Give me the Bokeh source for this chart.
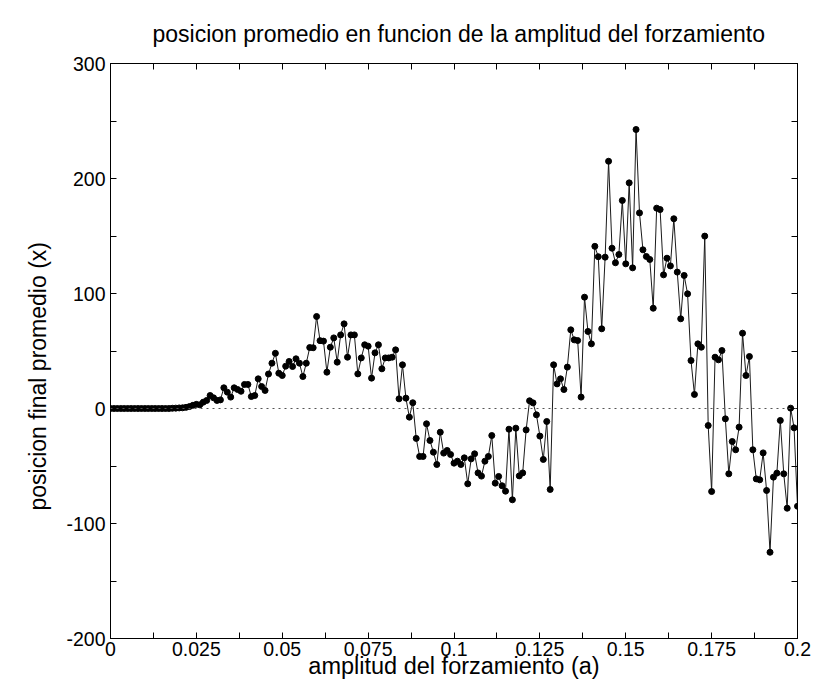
from bokeh.plotting import figure
from bokeh.models import LinearAxis, FixedTicker, Span, CustomJSTickFormatter, Title
from bokeh.embed import file_html
from bokeh.resources import INLINE

# forcing amplitude grid (0 .. 0.2, step 0.001)
amplitud = [round(0.001 * k, 3) for k in range(201)]

# mean final position for each amplitude
posicion = [
    0, 0, 0, 0, 0, 0, 0, 0, 0, 0,
    0, 0, 0, 0, 0, 0, 0, 0, 0.2, 0.3,
    0.5, 0.6, 1.0, 1.7, 2.8, 3.6, 3.2, 5.5, 7.0, 11.3,
    9.3, 7.0, 7.5, 18.0, 14.2, 9.9, 18.0, 16.5, 15.0, 20.9,
    20.9, 10.4, 11.3, 25.8, 19.1, 15.7, 30.0, 39.4, 48.0, 30.7,
    28.7, 36.8, 40.9, 36.5, 43.2, 39.4, 27.8, 39.4, 53.0, 52.8,
    80.0, 59.0, 58.6, 31.6, 53.3, 61.4, 40.3, 64.0, 73.6, 44.6,
    64.0, 64.0, 30.1, 44.0, 55.4, 54.2, 26.4, 48.4, 55.4, 34.5,
    44.0, 44.0, 44.6, 51.0, 8.4, 38.0, 9.0, -7.5, 5.0, -26.0,
    -41.7, -41.7, -13.3, -27.8, -38.0, -48.7, -20.6, -38.8, -36.5, -40.0,
    -47.5, -45.8, -48.7, -42.9, -65.5, -43.8, -39.4, -56.0, -58.8, -45.8,
    -41.7, -23.5, -64.9, -59.1, -67.2, -71.9, -18.0, -79.4, -17.1, -58.6,
    -56.0, -18.6, 6.7, 4.9, -5.5, -24.0, -44.3, -11.3, -70.4, 38.0,
    21.4, 25.8, 16.5, 36.0, 68.4, 59.7, 59.1, 9.9, 96.8, 67.0,
    56.2, 141.0, 132.0, 69.3, 131.6, 215.0, 139.4, 126.7, 133.9, 180.9,
    125.8, 196.2, 122.3, 242.6, 170.1, 138.0, 132.2, 129.6, 87.2, 174.2,
    173.0, 116.2, 130.7, 124.0, 165.0, 118.6, 78.0, 115.7, 99.7, 41.7,
    12.2, 56.2, 53.3, 149.9, -14.8, -72.2, 44.6, 42.3, 50.4, -9.0,
    -56.8, -28.7, -35.9, -16.2, 65.5, 28.7, 45.2, -35.9, -61.2, -62.0,
    -38.6, -71.3, -125.0, -59.7, -56.2, -10.4, -56.8, -86.7, 0.3, -16.8,
    -85.0,
]

x_ticks = [0, 0.025, 0.05, 0.075, 0.1, 0.125, 0.15, 0.175, 0.2]
x_tick_labels = ["0", "0.025", "0.05", "0.075", "0.1", "0.125", "0.15", "0.175", "0.2"]
x_minor = [0.0125, 0.0375, 0.0625, 0.0875, 0.1125, 0.1375, 0.1625, 0.1875]
y_ticks = [-200, -100, 0, 100, 200, 300]
y_tick_labels = ["-200", "-100", "0", "100", "200", "300"]
y_minor = [-150, -50, 50, 150, 250]

FONT = "'Liberation Sans', Arial, sans-serif"

p = figure(
    width=814, height=692,
    x_range=(0, 0.2), y_range=(-200, 300),
    output_backend="svg", toolbar_location=None,
    x_axis_location=None, y_axis_location=None,
    min_border_left=110, min_border_right=17,
    min_border_top=63, min_border_bottom=54,
)

p.background_fill_color = "white"
p.border_fill_color = "white"
p.outline_line_color = "black"
p.outline_line_width = 1
p.xgrid.visible = False
p.ygrid.visible = False

blank = CustomJSTickFormatter(code="return ''")


def style_axis(ax, labelled):
    ax.axis_line_color = "black"
    ax.major_tick_in = 6
    ax.major_tick_out = 0
    ax.minor_tick_in = 6
    ax.minor_tick_out = 0
    ax.major_tick_line_color = "black"
    ax.minor_tick_line_color = "black"
    ax.major_label_text_font = FONT
    ax.major_label_text_font_size = "19.5px"
    ax.major_label_text_color = "black"
    ax.axis_label_text_font = FONT
    ax.axis_label_text_font_size = "23.5px"
    ax.axis_label_text_font_style = "normal"
    ax.axis_label_text_color = "black"
    if not labelled:
        ax.formatter = blank
        ax.major_label_standoff = 0
        ax.major_label_text_font_size = "0px"


xb = LinearAxis(ticker=FixedTicker(ticks=x_ticks, minor_ticks=x_minor),
                axis_label="amplitud del forzamiento (a)")
style_axis(xb, True)
xb.major_label_overrides = dict(zip(x_ticks, x_tick_labels))
xb.major_label_standoff = 3
xb.axis_label_standoff = -6
p.add_layout(xb, "below")

xt = LinearAxis(ticker=FixedTicker(ticks=x_ticks, minor_ticks=x_minor))
style_axis(xt, False)
p.add_layout(xt, "above")

yl = LinearAxis(ticker=FixedTicker(ticks=y_ticks, minor_ticks=y_minor))
style_axis(yl, True)
yl.major_label_overrides = dict(zip(y_ticks, y_tick_labels))
yl.major_label_standoff = 5
p.add_layout(yl, "left")

yr = LinearAxis(ticker=FixedTicker(ticks=y_ticks, minor_ticks=y_minor))
style_axis(yr, False)
p.add_layout(yr, "right")

# chart title above the frame
p.add_layout(Title(
    text="posicion promedio en funcion de la amplitud del forzamiento",
    align="left", offset=42, standoff=34,
    text_font=FONT, text_font_size="23px", text_font_style="normal",
    text_color="black",
), "above")

# vertical axis title
p.add_layout(Title(
    text="posicion final promedio (x)",
    align="left", offset=128, standoff=25,
    text_font=FONT, text_font_size="23px", text_font_style="normal",
    text_color="black",
), "left")

# dotted zero reference
p.add_layout(Span(location=0, dimension="width", line_color="#555555",
                  line_width=1, line_dash="2 4"))

p.line(amplitud, posicion, line_color="#1a1a1a", line_width=1)
p.scatter(amplitud, posicion, size=6, fill_color="black", line_color="black")

open("out.html", "w").write(file_html(p, INLINE))
